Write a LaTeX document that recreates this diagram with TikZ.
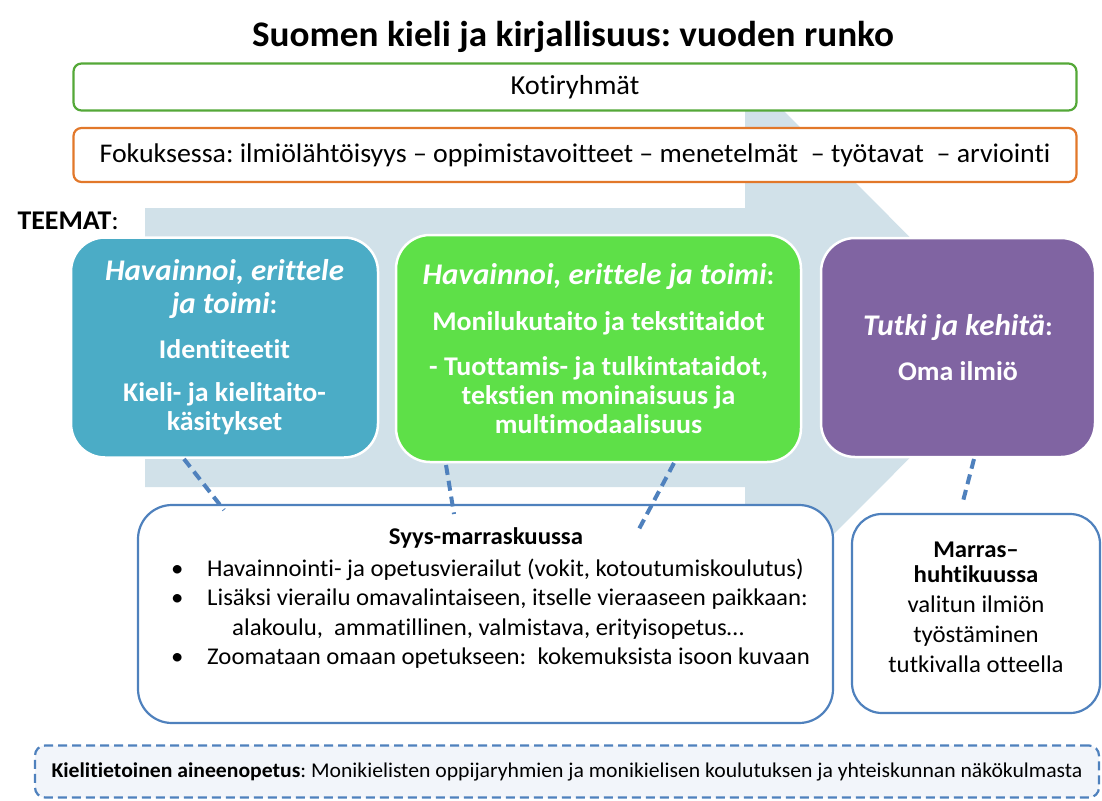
\documentclass[tikz,border=0pt]{standalone}
\usepackage{fontspec}
\setmainfont{Carlito}[FakeStretch=1.033, Ligatures=NoCommon]
\frenchspacing
\definecolor{arrowc}{RGB}{209,225,233}
\definecolor{bluebox}{RGB}{75,172,198}
\definecolor{greenbox}{RGB}{94,224,72}
\definecolor{purplebox}{RGB}{128,100,162}
\definecolor{linkc}{RGB}{79,129,189}
\definecolor{kotic}{RGB}{84,168,56}
\definecolor{fokc}{RGB}{226,120,42}
\definecolor{bottomfill}{RGB}{242,245,250}
\newcommand{\hd}[1]{{\fontsize{30}{29}\selectfont\textit{#1}}}
\begin{document}
\begin{tikzpicture}[x=1pt,y=-1pt,
  framebox/.style={draw, line width=2.2pt, rounded corners=8pt, fill=white, inner sep=0pt},
  theme/.style={draw=white, line width=2.5pt, rounded corners=34pt, inner sep=0pt, text=white, align=center, font=\bfseries\fontsize{27}{29}\selectfont},
  period/.style={draw=linkc, line width=2.2pt, rounded corners=34pt, fill=white, inner sep=0pt},
  listline/.style={anchor=base west, inner sep=0pt, font=\fontsize{24}{28}\selectfont},
  link/.style={draw=linkc, line width=4pt, dash pattern=on 10pt off 6pt}
]
\useasboundingbox (0,0) rectangle (1102,800);
% big arrow
\fill[arrowc] (145,208) -- (745,208) -- (745,72) -- (1020,347.5) -- (745,623) -- (745,487) -- (145,487) -- cycle;

\node (title) at (573,37) {\bfseries\fontsize{36}{40}\selectfont Suomen kieli ja kirjallisuus: vuoden runko};

\node[framebox, draw=kotic, minimum width=1003pt, minimum height=47pt] (koti) at (575,87)
  {\fontsize{27.5}{30}\selectfont Kotiryhmät};
\node[framebox, draw=fokc, minimum width=1003pt, minimum height=54pt] (fok) at (575,155)
  {\fontsize{27}{30}\selectfont Fokuksessa: ilmiölähtöisyys -- oppimistavoitteet -- menetelmät \ -- työtavat \ -- arviointi};

\node[anchor=west] (teemat) at (14,221) {\bfseries\fontsize{27}{30}\selectfont TEEMAT\textmd{:}};

\node[theme, fill=bluebox, minimum width=307pt, minimum height=220pt] (blue) at (224.5,347.5)
  {\hd{Havainnoi, erittele}\\[4pt]\hd{ja toimi}:\\[16pt]Identiteetit\\[14pt]Kieli- ja kielitaito-\\käsitykset};
\node[theme, fill=greenbox, minimum width=405pt, minimum height=227pt] (green) at (598.5,348.5)
  {\hd{Havainnoi, erittele ja toimi}:\\[17pt]Monilukutaito ja tekstitaidot\\[16pt]- Tuottamis- ja tulkintataidot,\\tekstien moninaisuus ja\\multimodaalisuus};
\node[theme, fill=purplebox, minimum width=274pt, minimum height=219pt] (purple) at (958,347.5)
  {\hd{Tutki ja kehitä}:\\[16pt]Oma ilmiö};

\node[period, minimum width=695pt, minimum height=218pt] (syys) at (485.5,614) {};
\node[period, minimum width=248pt, minimum height=199pt, rounded corners=30pt] (marras) at (976,613.5) {};

\node (syystitle) at (486,538) {\bfseries\fontsize{24}{28}\selectfont Syys-marraskuussa};
\node[listline] (b1) at (171,576) {•};
\node[listline] (t1) at (207,576) {Havainnointi- ja opetusvierailut (vokit, kotoutumiskoulutus)};
\node[listline] (b2) at (171,605) {•};
\node[listline] (t2) at (207,605) {Lisäksi vierailu omavalintaiseen, itselle vieraaseen paikkaan:};
\node[listline] (t3) at (232,635) {alakoulu, \ ammatillinen, valmistava, erityisopetus…};
\node[listline] (b4) at (171,664) {•};
\node[listline] (t4) at (207,664) {Zoomataan omaan opetukseen: \ kokemuksista isoon kuvaan};

\node[align=center, font=\fontsize{24}{25}\selectfont] (marrastext) at (976,607)
  {\textbf{Marras--}\\\textbf{huhtikuussa}\\[5pt]valitun ilmiön\\[5pt]työstäminen\\[5pt]tutkivalla otteella};

\node[draw=linkc, line width=2.2pt, dash pattern=on 9pt off 5pt, rounded corners=10pt, fill=bottomfill,
  minimum width=1064pt, minimum height=52pt, font=\fontsize{21}{24}\selectfont] (bottom) at (567,771.5)
  {\textbf{Kielitietoinen aineenopetus}: Monikielisten oppijaryhmien ja monikielisen koulutuksen ja yhteiskunnan näkökulmasta};

% dashed connectors
\coordinate (l1a) at (184,459);
\coordinate (l1b) at (224,510);
\coordinate (l2a) at (446,465);
\coordinate (l2b) at (454,514);
\coordinate (l3a) at (674,463);
\coordinate (l3b) at (639,529);
\coordinate (l4a) at (974,459);
\coordinate (l4b) at (962,505);
\draw[link] (l1a) -- (l1b);
\draw[link] (l2a) -- (l2b);
\draw[link] (l3a) -- (l3b);
\draw[link] (l4a) -- (l4b);
\end{tikzpicture}
\end{document}
